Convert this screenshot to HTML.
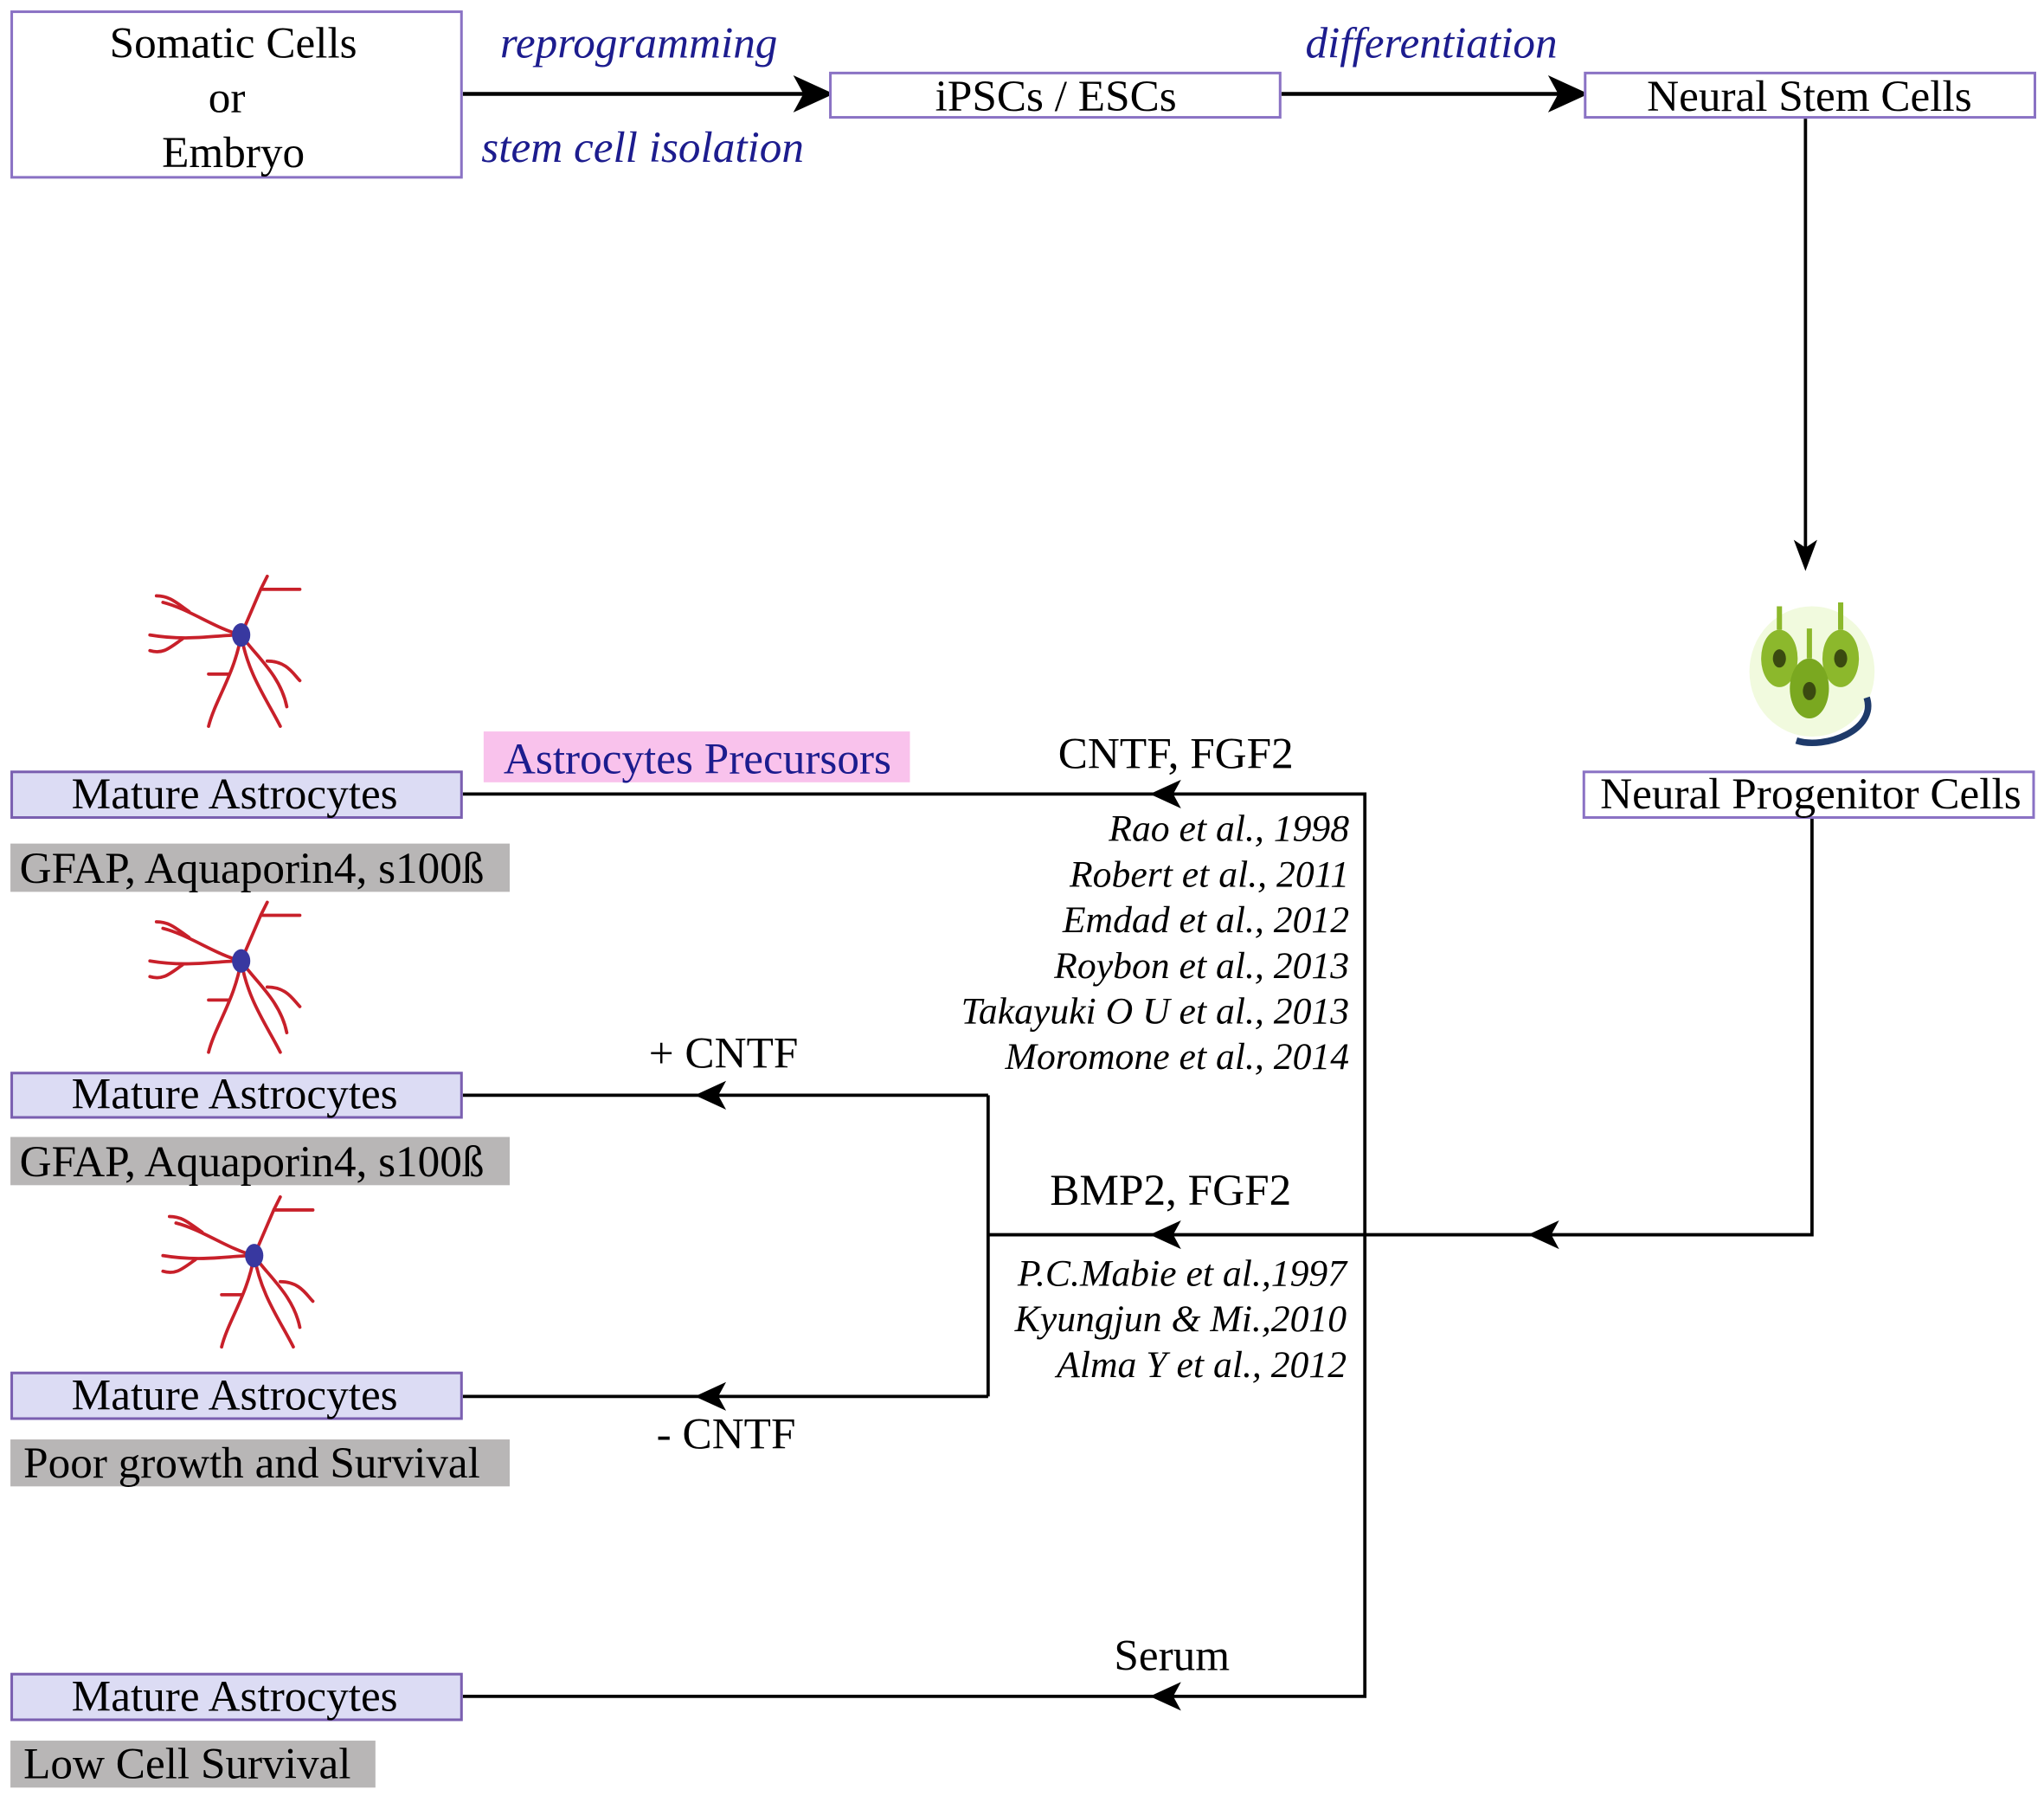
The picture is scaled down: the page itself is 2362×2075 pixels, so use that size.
<!DOCTYPE html>
<html><head><meta charset="utf-8"><style>
html,body{margin:0;padding:0;background:#fff;}
#wrap{width:2362px;height:2075px;overflow:hidden;position:relative;}
#d{position:absolute;left:0;top:0;width:1568px;height:1378px;transform:scale(1.5064);transform-origin:0 0;font-family:"Liberation Serif",serif;}
.t{position:absolute;white-space:nowrap;line-height:1;font-size:34px;margin-top:2px;}
.box{position:absolute;border:2px solid #8a72c4;box-sizing:border-box;background:#fff;}
.ma{background:#dcdcf4;border-color:#7a5fb0;}
.g{position:absolute;background:#b8b6b6;}
.c{transform:translateX(-50%);}
.r{transform:translateX(-100%);}
.i{font-style:italic;}
.s{font-size:29px;}
.b{color:#1c1c8e;}
</style></head><body><div id="wrap"><div id="d">
<svg width="1568" height="1378" style="position:absolute;left:0;top:0">
<defs>
<g id="ast" stroke="#c8202a" stroke-width="2.5" fill="none" stroke-linecap="round">
<path d="M0,0 C-20,-5 -40,-20 -60,-25 M-40,-18 C-50,-25 -55,-30 -65,-30 M0,0 C-20,0 -40,5 -70,0 M-45,3 C-55,10 -60,15 -70,12 M0,0 L15,-35 L45,-35 M15,-35 L20,-45 M0,0 C10,15 30,30 35,55 M20,20 C35,20 40,30 45,35 M0,0 C5,30 20,50 30,70 M0,0 C-5,30 -20,50 -25,70 M-10,30 L-25,30"/>
<ellipse cx="0" cy="0" rx="7" ry="9" fill="#3838a0" stroke="none"/>
</g>
</defs>
<g stroke="#000" stroke-width="3" fill="none">
<line x1="355" y1="72" x2="620" y2="72"/><path d="M636,72 L612,61 L618,72 L612,83z" fill="#000"/>
<line x1="983" y1="72" x2="1200" y2="72"/><path d="M1215,72 L1191,61 L1197,72 L1191,83z" fill="#000"/>
</g>
<g stroke="#000" stroke-width="2.5" fill="none">
<line x1="1385" y1="91" x2="1385" y2="425"/>
<polyline points="1390,628 1390,947 758,947"/>
<polyline points="758,840 758,1071"/>
<polyline points="355,609 1047,609 1047,1301 355,1301"/>
<line x1="355" y1="840" x2="758" y2="840"/>
<line x1="355" y1="1071" x2="758" y2="1071"/>
</g>
<g fill="#000">
<path d="M1385,438 L1376,414 L1385,420 L1394,414z"/>
<path d="M1172,947 L1196,936 L1190,947 L1196,958z"/>
<path d="M882,947 L906,936 L900,947 L906,958z"/>
<path d="M882,609 L906,598 L900,609 L906,620z"/>
<path d="M882,1301 L906,1290 L900,1301 L906,1312z"/>
<path d="M533,840 L557,829 L551,840 L557,851z"/>
<path d="M533,1071 L557,1060 L551,1071 L557,1082z"/>
</g>
<use href="#ast" x="185" y="487"/>
<use href="#ast" x="185" y="737"/>
<use href="#ast" x="195" y="963"/>
<g>
<ellipse cx="1390" cy="515" rx="48" ry="50" fill="#d8f0a0" opacity="0.35"/>
<ellipse cx="1365" cy="505" rx="14" ry="22" fill="#8cb82c"/>
<ellipse cx="1412" cy="505" rx="14" ry="22" fill="#8cb82c"/>
<ellipse cx="1388" cy="528" rx="15" ry="23" fill="#7aa820"/>
<ellipse cx="1365" cy="505" rx="5" ry="7" fill="#3a4a10"/>
<ellipse cx="1412" cy="505" rx="5" ry="7" fill="#3a4a10"/>
<ellipse cx="1388" cy="530" rx="5" ry="7" fill="#3a4a10"/>
<path d="M1365,483 L1365,465 M1412,483 L1412,462 M1388,505 L1388,482" stroke="#8cb82c" stroke-width="4"/>
<path d="M1378,568 C1400,575 1440,560 1432,535" stroke="#1e3a6a" stroke-width="5" fill="none"/>
</g>
</svg>
<div class="box" style="left:8px;top:8px;width:347px;height:129px"></div>
<div class="t c" style="left:179px;top:15px">Somatic Cells</div>
<div class="t c" style="left:174px;top:57px">or</div>
<div class="t c" style="left:179px;top:99px">Embryo</div>
<div class="t c i b" style="left:490px;top:15px">reprogramming</div>
<div class="t c i b" style="left:493px;top:95px">stem cell isolation</div>
<div class="t c i b" style="left:1098px;top:15px">differentiation</div>
<div class="box" style="left:636px;top:55px;width:347px;height:36px"></div>
<div class="t c" style="left:810px;top:56px">iPSCs / ESCs</div>
<div class="box" style="left:1215px;top:55px;width:347px;height:36px"></div>
<div class="t c" style="left:1388px;top:56px">Neural Stem Cells</div>
<div class="box" style="left:1214px;top:591px;width:347px;height:37px"></div>
<div class="t c" style="left:1389px;top:591px">Neural Progenitor Cells</div>
<div style="position:absolute;left:371px;top:561px;width:327px;height:39px;background:#f9c2ec"></div>
<div class="t c b" style="left:535px;top:564px">Astrocytes Precursors</div>
<div class="box ma" style="left:8px;top:591px;width:347px;height:37px"></div>
<div class="t c" style="left:180px;top:591px">Mature Astrocytes</div>
<div class="box ma" style="left:8px;top:822px;width:347px;height:36px"></div>
<div class="t c" style="left:180px;top:821px">Mature Astrocytes</div>
<div class="box ma" style="left:8px;top:1052px;width:347px;height:37px"></div>
<div class="t c" style="left:180px;top:1052px">Mature Astrocytes</div>
<div class="box ma" style="left:8px;top:1283px;width:347px;height:37px"></div>
<div class="t c" style="left:180px;top:1283px">Mature Astrocytes</div>
<div class="g" style="left:8px;top:647px;width:383px;height:37px"></div>
<div class="t" style="left:15px;top:648px">GFAP, Aquaporin4, s100ß</div>
<div class="g" style="left:8px;top:872px;width:383px;height:37px"></div>
<div class="t" style="left:15px;top:873px">GFAP, Aquaporin4, s100ß</div>
<div class="g" style="left:8px;top:1104px;width:383px;height:36px"></div>
<div class="t" style="left:18px;top:1104px">Poor growth and Survival</div>
<div class="g" style="left:8px;top:1335px;width:280px;height:36px"></div>
<div class="t" style="left:18px;top:1335px">Low Cell Survival</div>
<div class="t c" style="left:902px;top:560px">CNTF, FGF2</div>
<div class="t r i s" style="left:1035px;top:620px">Rao et al., 1998</div>
<div class="t r i s" style="left:1035px;top:655px">Robert et al., 2011</div>
<div class="t r i s" style="left:1035px;top:690px">Emdad et al., 2012</div>
<div class="t r i s" style="left:1035px;top:725px">Roybon et al., 2013</div>
<div class="t r i s" style="left:1035px;top:760px">Takayuki O U et al., 2013</div>
<div class="t r i s" style="left:1035px;top:795px">Moromone et al., 2014</div>
<div class="t c" style="left:555px;top:790px">+ CNTF</div>
<div class="t c" style="left:898px;top:895px">BMP2, FGF2</div>
<div class="t r i s" style="left:1033px;top:961px">P.C.Mabie et al.,1997</div>
<div class="t r i s" style="left:1033px;top:996px">Kyungjun &amp; Mi.,2010</div>
<div class="t r i s" style="left:1033px;top:1031px">Alma Y et al., 2012</div>
<div class="t c" style="left:557px;top:1082px">- CNTF</div>
<div class="t c" style="left:899px;top:1252px">Serum</div>
</div></div></body></html>
